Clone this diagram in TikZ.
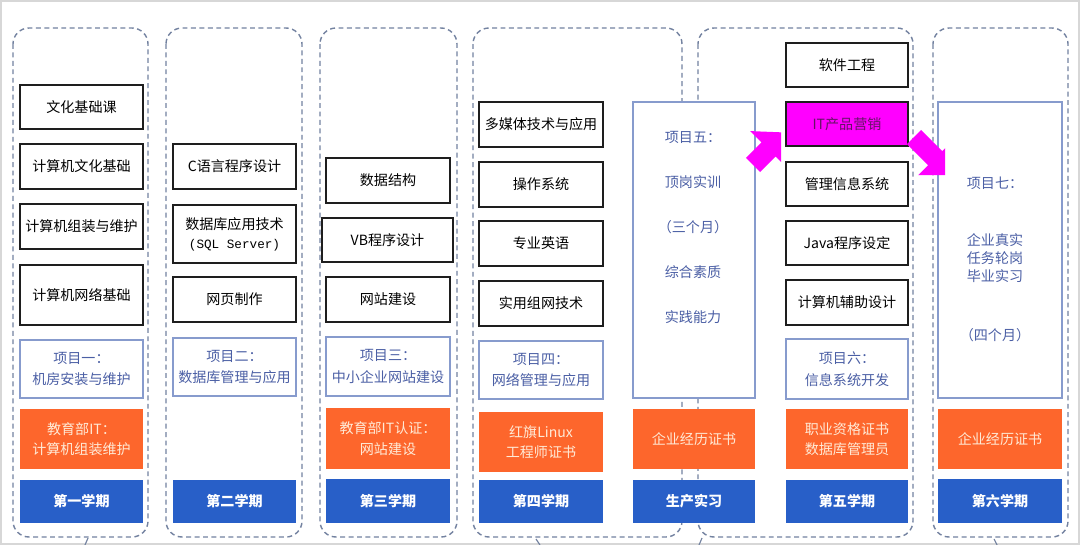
\documentclass[tikz,border=0pt]{standalone}
\usepackage{fontspec}
\setmainfont{Noto Sans CJK SC}
\newfontfamily\sqlfont{Liberation Mono}
\definecolor{dashc}{RGB}{115,130,160}
\definecolor{blkline}{RGB}{30,30,30}
\definecolor{projline}{RGB}{135,155,205}
\definecolor{projtext}{RGB}{75,95,165}
\definecolor{orangef}{RGB}{253,102,44}
\definecolor{orangetext}{RGB}{255,234,214}
\definecolor{semf}{RGB}{40,95,200}
\definecolor{magf}{RGB}{255,0,255}
\definecolor{magtext}{RGB}{100,20,100}
\definecolor{framec}{RGB}{215,215,215}
\tikzset{
  colbox/.style={draw=dashc, line width=1pt, dash pattern=on 3.5pt off 2.5pt, rounded corners=0.4cm},
  stub/.style={draw=dashc, line width=0.8pt},
  wh/.style 2 args={minimum width=#1*0.025cm, minimum height=#2*0.025cm},
  course/.style={draw=blkline, fill=white, line width=1.1pt, inner sep=0pt, align=center, font=\fontsize{10}{13.5}\selectfont},
  proj/.style={draw=projline, fill=white, line width=0.9pt, text=projtext, inner sep=0pt, align=center, font=\fontsize{10}{15.5}\selectfont},
  projlbl/.style={text=projtext, inner sep=0pt, align=center},
  cert/.style={fill=orangef, text=orangetext, inner sep=0pt, align=center, font=\fontsize{10}{14.5}\selectfont},
  term/.style={fill=semf, text=white, inner sep=0pt, font=\bfseries\fontsize{10}{12}\selectfont},
  blockarrow/.style={fill=magf},
}
\begin{document}
\begin{tikzpicture}[x=0.025cm, y=-0.025cm]
\useasboundingbox (0,0) rectangle (1080,545);
\fill[white] (0,0) rectangle (1080,545);
\draw[framec, line width=2.5pt] (0,0) rectangle (1080,545);

\draw[colbox] (13,28) rectangle (148,537);
\draw[colbox] (166,28) rectangle (302,537);
\draw[colbox] (320,28) rectangle (457,537);
\draw[colbox] (473,28) rectangle (682,537);
\draw[colbox] (698,28) rectangle (913,537);
\draw[colbox] (933,28) rectangle (1068,537);
\draw[stub] (88,538) -- (85,545);
\draw[stub] (536,539) -- (540,545);
\draw[stub] (702,538) -- (699,545);
\draw[stub] (994,539) -- (997,545);

\node[course, wh={123}{44}] (c1a) at (81.5,107) {文化基础课};
\node[course, wh={123}{45}] (c1b) at (81.5,166.5) {计算机文化基础};
\node[course, wh={123}{45}] (c1c) at (81.5,226.5) {计算机组装与维护};
\node[course, wh={123}{60}] (c1d) at (81.5,295) {计算机网络基础};
\node[proj, wh={123}{58}] (p1) at (81.5,369) {项目一：\\机房安装与维护};
\node[cert, wh={123}{60}] (z1) at (81.5,439) {教育部IT：\\计算机组装维护};
\node[term, wh={123}{43}] (s1) at (81.5,501.5) {第一学期};

\node[course, wh={123}{45}] (c2a) at (234.5,166.5) {C语言程序设计};
\node[course, wh={123}{58}] (c2b) at (234.5,234) {数据库应用技术\\{\sqlfont\fontsize{9}{12}\selectfont(SQL Server)}};
\node[course, wh={123}{45}] (c2c) at (234.5,299.5) {网页制作};
\node[proj, wh={123}{58}] (p2) at (234.5,367) {项目二：\\数据库管理与应用};
\node[term, wh={123}{43}] (s2) at (234.5,501.5) {第二学期};

\node[course, wh={124}{45}] (c3a) at (388,180.5) {数据结构};
\node[course, wh={131}{44}] (c3b) at (387.5,240) {VB程序设计};
\node[course, wh={124}{45}] (c3c) at (388,299.5) {网站建设};
\node[proj, wh={124}{59}] (p3) at (388,366.5) {项目三：\\中小企业网站建设};
\node[cert, wh={124}{61}] (z3) at (388,438.5) {教育部IT认证：\\网站建设};
\node[term, wh={124}{44}] (s3) at (388,501) {第三学期};

\node[course, wh={124}{45}] (c4a) at (541,124.5) {多媒体技术与应用};
\node[course, wh={124}{45}] (c4b) at (541,184.5) {操作系统};
\node[course, wh={124}{45}] (c4c) at (541,243.5) {专业英语};
\node[course, wh={124}{45}] (c4d) at (541,303.5) {实用组网技术};
\node[proj, wh={124}{58}] (p4) at (541,370) {项目四：\\网络管理与应用};
\node[cert, wh={124}{60}] (z4) at (541,442) {红旗Linux\\工程师证书};
\node[term, wh={124}{43}] (s4) at (541,501.5) {第四学期};

\node[proj, wh={122}{296}] (p5) at (694,250) {};
\node[projlbl, font=\fontsize{10}{32}\selectfont] (p5t) at (693,227.5) {项目五：\\顶岗实训\\（三个月）\\综合素质\\实践能力};
\node[cert, wh={122}{60}] (z5) at (694,439) {企业经历证书};
\node[term, wh={122}{43}] (s5) at (694,501.5) {生产实习};

\node[course, wh={122}{44}] (c5a) at (847,65) {软件工程};
\node[course, fill=magf, text=magtext, wh={122}{44}] (c5b) at (847,124) {IT产品营销};
\node[course, wh={122}{44}] (c5c) at (847,184) {管理信息系统};
\node[course, wh={122}{44}] (c5d) at (847,243) {Java程序设定};
\node[course, wh={122}{45}] (c5e) at (847,302.5) {计算机辅助设计};
\node[proj, wh={122}{60}] (p6) at (847,369) {项目六：\\信息系统开发};
\node[cert, wh={122}{60}] (z6) at (847,439) {职业资格证书\\数据库管理员};
\node[term, wh={122}{43}] (s6) at (847,501.5) {第五学期};

\node[proj, wh={124}{296}] (p7) at (1000,250) {};
\node[projlbl, font=\fontsize{10}{12}\selectfont] (p7a) at (995,183) {项目七：};
\node[projlbl, font=\fontsize{10}{12.8}\selectfont] (p7b) at (995,258) {企业真实\\任务轮岗\\毕业实习};
\node[projlbl, font=\fontsize{10}{12}\selectfont] (p7c) at (995,335) {（四个月）};
\node[cert, wh={124}{60}] (z7) at (1000,439) {企业经历证书};
\node[term, wh={124}{44}] (s7) at (1000,501) {第六学期};

\begin{scope}
\clip (700,100) rectangle (781,180);
\fill[blockarrow] (745.9,157.9) -- (761.5,142.4) -- (750.2,131.1) -- (785.5,132.5) -- (786.9,167.8) -- (775.6,156.5) -- (760.1,172.1) -- cycle;
\end{scope}
\begin{scope}
\clip (890,100) rectangle (945,190);
\fill[blockarrow] (921.1,129.9) -- (942.3,151.1) -- (952.2,141.2) -- (952.2,175.2) -- (918.2,175.2) -- (928.1,165.3) -- (906.9,144.1) -- cycle;
\end{scope}
\end{tikzpicture}
\end{document}
